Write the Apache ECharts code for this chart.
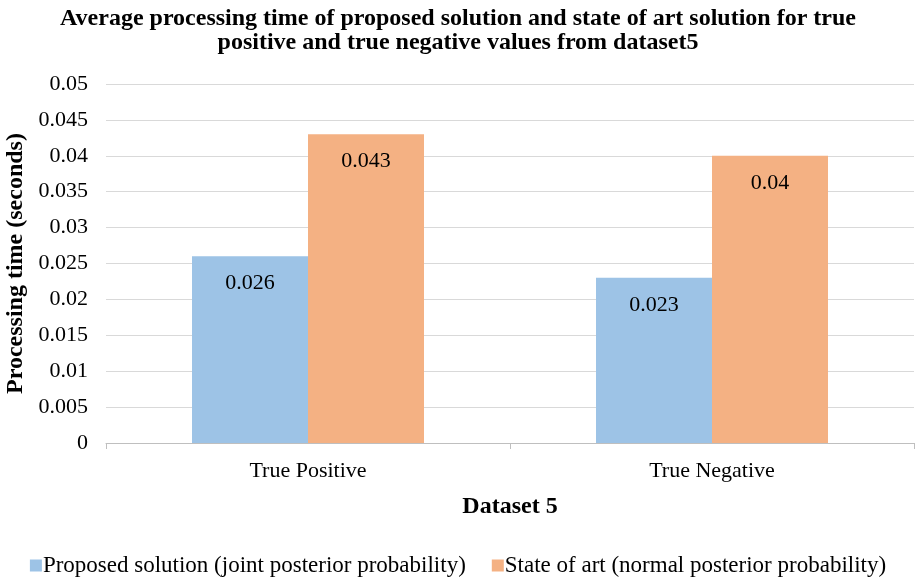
<!DOCTYPE html>
<html>
<head>
<meta charset="utf-8">
<script src="https://cdn.jsdelivr.net/npm/echarts@6/dist/echarts.min.js"></script>
<style>
  html, body { margin: 0; padding: 0; background: #fff; }
  #chart { width: 916px; height: 580px; }
</style>
</head>
<body>
<div id="chart"></div>
<script>
// Categories and series values
const categories = ['True Positive', 'True Negative'];
const proposedValues = [0.026, 0.023];
const stateOfArtValues = [0.043, 0.04];
const seriesNames = [
  'Proposed solution (joint posterior probability)',
  'State of art (normal posterior probability)'
];

const serif = '"Liberation Serif", "Times New Roman", serif';
const chart = echarts.init(document.getElementById('chart'));

const labelStyle = {
  show: true,
  position: 'insideTop',
  distance: 16,
  color: '#000',
  fontFamily: serif,
  fontSize: 22
};

chart.setOption({
  animation: false,
  textStyle: { fontFamily: serif },
  title: {
    text: 'Average processing time of proposed solution and state of art solution for true\npositive and true negative values from dataset5',
    left: 'center',
    top: 2,
    textStyle: { fontFamily: serif, fontSize: 24, fontWeight: 'bold', color: '#000', lineHeight: 24 }
  },
  legend: {
    bottom: -2,
    left: 'center',
    itemWidth: 12,
    itemHeight: 12,
    itemGap: 26,
    icon: 'rect',
    textStyle: { fontFamily: serif, fontSize: 23, color: '#000', padding: [0, 0, 0, -4] },
    data: seriesNames
  },
  grid: { left: 106, right: 2, top: 84, bottom: 137, outerBoundsMode: 'none', containLabel: false },
  xAxis: {
    type: 'category',
    data: categories,
    name: 'Dataset 5',
    nameLocation: 'middle',
    nameGap: 52,
    nameTextStyle: { fontFamily: serif, fontSize: 24, fontWeight: 'bold', color: '#000' },
    axisLine: { lineStyle: { color: '#bfbfbf', width: 1 } },
    axisTick: { show: true, length: 6, lineStyle: { color: '#bfbfbf' } },
    axisLabel: { fontFamily: serif, fontSize: 22, color: '#000', margin: 17 }
  },
  yAxis: {
    type: 'value',
    min: 0,
    max: 0.05,
    interval: 0.005,
    name: 'Processing time (seconds)',
    nameLocation: 'middle',
    nameGap: 75,
    nameTextStyle: { fontFamily: serif, fontSize: 24, fontWeight: 'bold', color: '#000' },
    axisLine: { show: false },
    axisTick: { show: false },
    splitLine: { lineStyle: { color: '#d9d9d9', width: 1 } },
    axisLabel: {
      fontFamily: serif, fontSize: 22, color: '#000', margin: 18,
      formatter: v => String(parseFloat(v.toFixed(3)))
    }
  },
  series: [
    {
      name: seriesNames[0],
      type: 'bar',
      data: proposedValues,
      barWidth: 116,
      barGap: '0%',
      itemStyle: { color: '#9dc3e6' },
      label: labelStyle
    },
    {
      name: seriesNames[1],
      type: 'bar',
      data: stateOfArtValues,
      barWidth: 116,
      barGap: '0%',
      itemStyle: { color: '#f4b183' },
      label: labelStyle
    }
  ]
});
</script>
</body>
</html>
